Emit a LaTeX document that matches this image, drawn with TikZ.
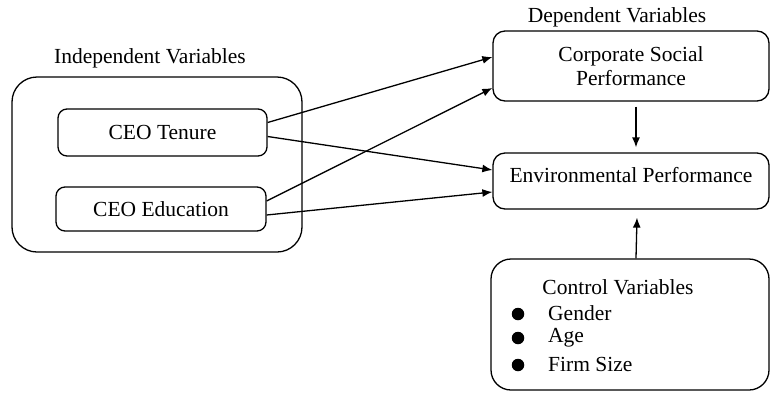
\documentclass[tikz,border=0pt]{standalone}
\usepackage{fontspec}
\setmainfont{Liberation Serif}
\newfontfamily\diagfont{Liberation Serif}
\usetikzlibrary{arrows.meta}
\begin{document}
\begin{tikzpicture}[x=1pt,y=-1pt,
  every node/.style={font=\diagfont\fontsize{21.5}{25}\selectfont, inner sep=0pt},
  box/.style={draw, line width=1.3pt, rounded corners=#1},
  conn/.style={line width=1.3pt, -{Latex[length=10pt,width=8pt]}},
  bullet/.style={circle, fill=black, minimum size=12.5pt}]
\useasboundingbox (0,0) rectangle (772,392);
% boxes
\node[box=25pt, minimum width=290pt, minimum height=175pt] (indep) at (157,164.5) {};
\node[box=9pt, minimum width=209pt, minimum height=47pt] (tenure) at (162.5,132.5) {CEO Tenure};
\node[box=9pt, minimum width=210pt, minimum height=44pt] (educ) at (161,209) {CEO Education};
\node[box=12pt, minimum width=276pt, minimum height=70pt, align=center] (csp) at (631,66) {Corporate Social\\[-1pt]Performance};
\node[box=12pt, minimum width=276pt, minimum height=56pt] (ep) at (631,181) {};
\node (eptext) at (631,175) {Environmental Performance};
\node[box=20pt, minimum width=278pt, minimum height=131pt] (ctrl) at (630,324.5) {};
% labels
\node (indeplab) at (150,58) {Independent Variables};
\node (deplab) at (617,17) {Dependent Variables};
\node (ctrllab) at (618,287) {Control Variables};
\node[anchor=west] (g) at (548,313) {Gender};
\node[anchor=west] (a) at (548,338) {Age};
\node[anchor=west] (f) at (548,364) {Firm Size};
\node[bullet] (b1) at (518,314) {};
\node[bullet] (b2) at (518,338) {};
\node[bullet] (b3) at (518,365) {};
% connectors
\draw[conn] ([yshift=10pt]tenure.east) -- ([yshift=9pt]csp.west);
\draw[conn] ([yshift=-4pt]tenure.east) -- ([yshift=11pt]ep.west);
\draw[conn] ([yshift=8pt]educ.east) -- ([yshift=-22pt]csp.west);
\draw[conn] ([yshift=-6pt]educ.east) -- ([yshift=-11pt]ep.west);
\draw[conn] ([xshift=5pt,yshift=-5pt]csp.south) -- ([xshift=5pt,yshift=5pt]ep.north);
\draw[conn] ([xshift=6pt]ctrl.north) -- ([xshift=6pt,yshift=-8pt]ep.south);
\end{tikzpicture}
\end{document}
